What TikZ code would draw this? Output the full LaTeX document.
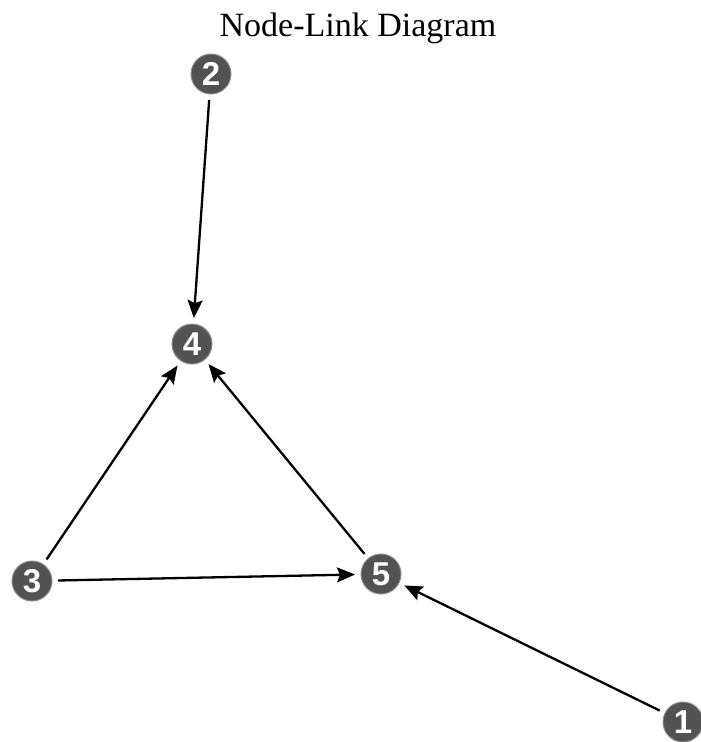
\documentclass[tikz,border=0pt]{standalone}
\usepackage{fontspec}
\setmainfont{Liberation Serif}
\newfontfamily\numfont{Liberation Sans}
\usetikzlibrary{arrows.meta}
\begin{document}
\begin{tikzpicture}[x=1pt,y=-1pt,
  numnode/.style={circle,fill=black!68,draw=black!45,line width=1pt,text=white,minimum size=40pt,inner sep=0pt,outer sep=6pt,font=\numfont\bfseries\fontsize{33}{33}\selectfont},
  link/.style={line width=2.3pt,-{Stealth[length=18pt,width=15pt,inset=3pt]}}]
\useasboundingbox (0,0) rectangle (701,742);
\node[font=\fontsize{34}{34}\selectfont] (title) at (358,28) {Node-Link Diagram};
\node[numnode] (n2) at (211,74) {2};
\node[numnode] (n4) at (192,344) {4};
\node[numnode] (n3) at (32,581) {3};
\node[numnode] (n5) at (381,574) {5};
\node[numnode] (n1) at (683,722) {1};
\draw[link] (n2) -- (n4);
\draw[link] (n3) -- (n4);
\draw[link] (n5) -- (n4);
\draw[link] (n3) -- (n5);
\draw[link] (n1) -- (n5);
\end{tikzpicture}
\end{document}
